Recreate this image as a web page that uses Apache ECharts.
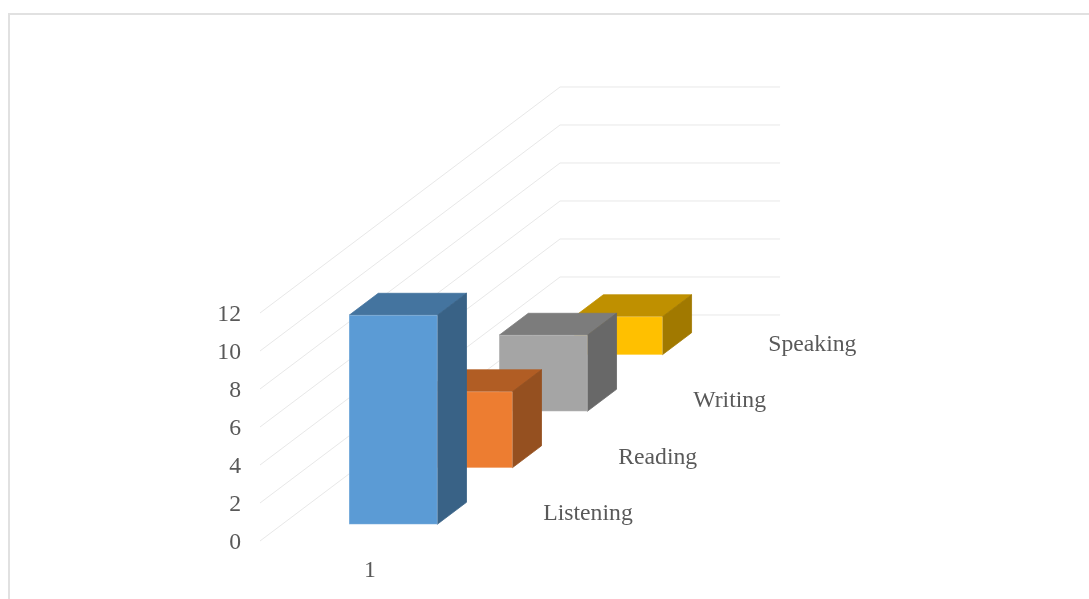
<!DOCTYPE html>
<html>
<head>
<meta charset="utf-8">
<style>html,body{margin:0;padding:0;background:#fff;overflow:hidden}#chart{width:1089px;height:599px}</style>
<script src="https://cdn.jsdelivr.net/npm/echarts@6/dist/echarts.min.js"></script>
</head>
<body>
<div id="chart"></div>
<script>
const categories = ['1'];
const yTicks = [0, 2, 4, 6, 8, 10, 12];
const seriesNames = ['Listening', 'Reading', 'Writing', 'Speaking'];
const listening = [11];
const reading = [4];
const writing = [4];
const speaking = [2];
const seriesValues = [listening, reading, writing, speaking];
const colors = [
  { front: '#5B9BD5', top: '#44749F', side: '#396286' },
  { front: '#ED7D31', top: '#B15D24', side: '#955020' },
  { front: '#A5A5A5', top: '#7C7C7C', side: '#686868' },
  { front: '#FFC000', top: '#BF9000', side: '#A17900' }
];

const FONT = '"Liberation Serif","Times New Roman",serif';
const TEXT = '#595959';
const DEPTH_X = 0.341;   // per series slot, as a share of the band width
const DEPTH_Y = 2.974;   // per series slot, in value-axis units
const BAR_F0 = 0.304, BAR_F1 = 0.705;
const BAR_Z0 = 0.296, BAR_Z1 = 0.685;

function projector(api) {
  const origin = api.coord([0, 0]);
  const band = api.size([1, 0])[0];
  const left = origin[0] - band / 2;
  return function (f, v, z) {
    const p = api.coord([0, v + z * DEPTH_Y]);
    return [left + f * band + z * DEPTH_X * band, p[1]];
  };
}

function poly(points, fill, stroke) {
  return {
    type: 'polygon',
    shape: { points: points },
    style: { fill: fill, stroke: stroke || fill, lineWidth: 0.8 }
  };
}

function barRenderer(slot) {
  return function (params, api) {
    const P = projector(api);
    const v = api.value(1);
    const z0 = slot + BAR_Z0, z1 = slot + BAR_Z1;
    const c = colors[slot];
    const edge = 'rgba(255,255,255,0.25)';
    return {
      type: 'group',
      children: [
        poly([P(BAR_F0, v, z0), P(BAR_F1, v, z0), P(BAR_F1, v, z1), P(BAR_F0, v, z1)], c.top, c.top),
        poly([P(BAR_F1, 0, z0), P(BAR_F1, v, z0), P(BAR_F1, v, z1), P(BAR_F1, 0, z1)], c.side, c.side),
        poly([P(BAR_F0, 0, z0), P(BAR_F1, 0, z0), P(BAR_F1, v, z0), P(BAR_F0, v, z0)], c.front, edge)
      ]
    };
  };
}

function wallRenderer(params, api) {
  const P = projector(api);
  const v = api.value(1);
  const n = seriesNames.length;
  return {
    type: 'polyline',
    shape: { points: [P(0, v, 0), P(0, v, n), P(1, v, n)] },
    style: { fill: 'none', stroke: '#E8E8E8', lineWidth: 1 }
  };
}

function labelRenderer(params, api) {
  const P = projector(api);
  const i = params.dataIndex;
  const p = P(1.117, -0.08, i + 0.5);
  return {
    type: 'text',
    style: {
      text: seriesNames[i], x: p[0], y: p[1],
      fill: TEXT, font: '23.7px ' + FONT,
      textAlign: 'left', textVerticalAlign: 'middle'
    }
  };
}

const barSeries = seriesNames.map(function (name, slot) {
  return {
    type: 'custom',
    name: name,
    renderItem: barRenderer(slot),
    data: seriesValues[slot].map(function (v, i) { return [i, v]; }),
    encode: { x: 0, y: 1 },
    z: 10 - slot,
    silent: true
  };
}).reverse();

const chart = echarts.init(document.getElementById('chart'), null, { renderer: 'canvas' });
chart.setOption({
  animation: false,
  backgroundColor: '#ffffff',
  tooltip: { show: false },
  legend: { show: false },
  graphic: [{
    type: 'rect',
    shape: { x: 9, y: 14, width: 2000, height: 2000 },
    style: { fill: 'none', stroke: '#E1E1E1', lineWidth: 2 },
    silent: true
  }],
  grid: { left: 260, top: 313, width: 220, height: 228, containLabel: false },
  xAxis: {
    type: 'category',
    data: categories,
    axisLine: { show: false },
    axisTick: { show: false },
    splitLine: { show: false },
    axisLabel: { color: TEXT, fontFamily: FONT, fontSize: 23.7, margin: 18 }
  },
  yAxis: {
    type: 'value',
    min: 0,
    max: 12,
    interval: 2,
    axisLine: { show: false },
    axisTick: { show: false },
    splitLine: { show: false },
    axisLabel: {
      margin: 19,
      formatter: '{a|{value}}',
      rich: { a: { color: TEXT, fontFamily: FONT, fontSize: 23.7, padding: [4, 0, 0, 0] } }
    }
  },
  series: [
    {
      type: 'custom',
      name: 'walls',
      renderItem: wallRenderer,
      data: yTicks.map(function (t) { return [0, t]; }),
      encode: { x: 0, y: 1 },
      z: 1,
      silent: true
    },
    {
      type: 'custom',
      name: 'depth labels',
      renderItem: labelRenderer,
      data: seriesNames.map(function () { return [0, 0]; }),
      encode: { x: 0, y: 1 },
      z: 2,
      silent: true
    }
  ].concat(barSeries)
});
</script>
</body>
</html>
